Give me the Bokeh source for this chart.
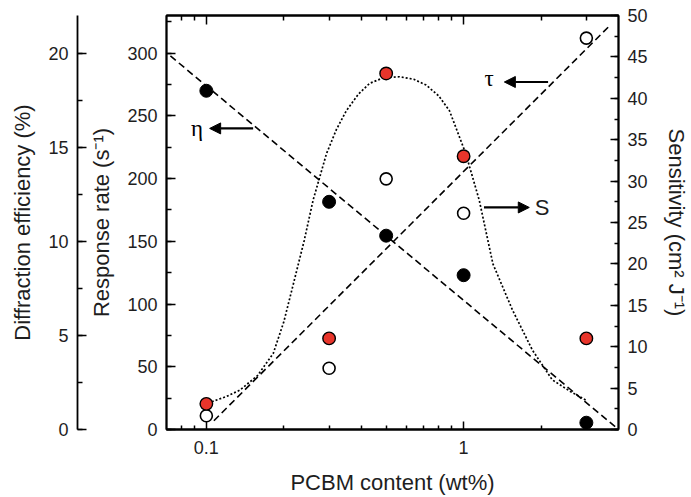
from bokeh.plotting import figure
from bokeh.models import (Range1d, LinearAxis, LogAxis, FixedTicker, SingleIntervalTicker,
                          BasicTickFormatter, Arrow, NormalHead, Label)
from bokeh.embed import file_html
from bokeh.resources import INLINE

# ---------------- data ----------------
pcbm = [0.1, 0.3, 0.5, 1.0, 3.0]
eta = [18.0, 12.1, 10.3, 8.2, 0.36]          # diffraction efficiency (%)
tau = [11.0, 48.8, 199.8, 172.4, 312.0]      # response rate (s^-1)
sens = [3.1, 11.0, 43.0, 33.0, 11.0]         # sensitivity (cm2 J-1)

eta_fit_x = [0.0725, 4.0]
eta_fit_y = [19.85, 0.0]
tau_fit_x = [0.107, 3.66]
tau_fit_y = [7.0, 321.0]
s_fit_x = [0.105, 0.120, 0.135, 0.158, 0.182, 0.200, 0.218, 0.240, 0.260, 0.293, 0.320, 0.350,
           0.390, 0.431, 0.490, 0.564, 0.640, 0.715, 0.800, 0.881, 1.02, 1.15, 1.30, 1.55, 1.85, 2.21, 2.60, 2.98]
s_fit_y = [3.35, 4.0, 4.76, 6.5, 9.19, 13.0, 17.6, 22.8, 27.7, 33.3, 36.2, 38.5,
           40.5, 41.8, 42.5, 42.6, 42.3, 41.6, 40.3, 38.5, 33.3, 27.7, 20.0, 14.4, 9.6, 6.0, 4.6, 3.56]

x_major = [0.1, 1.0]
x_minor = [0.08, 0.09, 0.2, 0.3, 0.4, 0.5, 0.6, 0.7, 0.8, 0.9, 2.0, 3.0]

FONT = "Liberation Sans"
TICK_FS = "18px"
LAB_FS = "22px"
TXT = "#1e1e1e"
RED = "#e8352b"

p = figure(width=691, height=497, x_axis_type="log",
           x_range=Range1d(0.07, 4.0), y_range=Range1d(0, 330),
           output_backend="svg", toolbar_location=None,
           min_border_left=166, min_border_right=71,
           min_border_top=15, min_border_bottom=68)
p.extra_y_ranges = {"eta": Range1d(0, 22.0), "sens": Range1d(0, 50)}
p.xgrid.visible = False
p.ygrid.visible = False
p.outline_line_color = "black"
p.outline_line_width = 1.8
p.background_fill_color = "white"
p.border_fill_color = "white"


def style_axis(ax, tin, minin):
    ax.major_tick_in = tin
    ax.major_tick_out = 0
    ax.minor_tick_in = minin
    ax.minor_tick_out = 0
    ax.axis_line_color = "black"
    ax.axis_line_width = 1.8
    ax.major_tick_line_color = "black"
    ax.major_tick_line_width = 1.5
    ax.minor_tick_line_color = "black"
    ax.minor_tick_line_width = 1.5
    ax.major_label_text_font = FONT
    ax.major_label_text_font_size = TICK_FS
    ax.major_label_text_color = TXT
    ax.axis_label_text_font = FONT
    ax.axis_label_text_font_size = LAB_FS
    ax.axis_label_text_font_style = "normal"
    ax.axis_label_text_color = TXT


# bottom (log) axis
xa = p.xaxis[0]
xa.ticker = FixedTicker(ticks=x_major, minor_ticks=x_minor)
xa.formatter = BasicTickFormatter()
style_axis(xa, 8, 4)
xa.major_label_standoff = 11
xa.axis_label = "PCBM content (wt%)"
xa.axis_label_standoff = 13

# top mirror axis
ta = LogAxis(ticker=FixedTicker(ticks=x_major, minor_ticks=x_minor))
style_axis(ta, 9, 5)
ta.major_label_text_font_size = "1px"
ta.major_label_text_alpha = 0
ta.major_label_standoff = 0
p.add_layout(ta, "above")

# inner left: response rate
ya = p.yaxis[0]
ya.ticker = SingleIntervalTicker(interval=50, num_minor_ticks=2)
style_axis(ya, 9, 5)
ya.major_label_standoff = 9
ya.axis_label = "Response rate (s⁻¹)"
ya.axis_label_standoff = 10

# spacer between the two left axes
sp = LinearAxis(y_range_name="eta", ticker=FixedTicker(ticks=[]))
style_axis(sp, 0, 0)
sp.axis_line_alpha = 0
sp.major_label_standoff = 0
sp.axis_label = "x"
sp.axis_label_text_alpha = 0
sp.axis_label_text_font_size = "5px"
sp.axis_label_standoff = 0
p.add_layout(sp, "left")

# outer left: diffraction efficiency
da = LinearAxis(y_range_name="eta", ticker=SingleIntervalTicker(interval=5, num_minor_ticks=2))
style_axis(da, 9, 5)
da.major_label_standoff = 9
da.axis_label = "Diffraction efficiency (%)"
da.axis_label_standoff = 10
p.add_layout(da, "left")

# right: sensitivity
ra = LinearAxis(y_range_name="sens", ticker=SingleIntervalTicker(interval=5, num_minor_ticks=2))
style_axis(ra, 8, 4)
ra.major_label_standoff = 9
ra.axis_label = "Sensitivity (cm² J⁻¹)"
ra.axis_label_standoff = 13
p.add_layout(ra, "right")

# fitted / guide lines
p.line(eta_fit_x, eta_fit_y, y_range_name="eta", line_color="black", line_width=1.6, line_dash="7 4")
p.line(tau_fit_x, tau_fit_y, line_color="black", line_width=1.6, line_dash="7 4")
p.line(s_fit_x, s_fit_y, y_range_name="sens", line_color="black", line_width=1.7, line_dash="2 2")

# data points
p.scatter(pcbm, eta, y_range_name="eta", size=13, fill_color="black", line_color="black", line_width=1)
p.scatter(pcbm, tau, size=12, fill_color="white", line_color="black", line_width=1.6)
p.scatter(pcbm, sens, y_range_name="sens", size=12.5, fill_color=RED, line_color="black", line_width=1.4)

# annotations
def arrow(x0, y0, x1, y1, rng="default"):
    p.add_layout(Arrow(end=NormalHead(size=11, fill_color="black", line_color="black"),
                       x_start=x0, y_start=y0, x_end=x1, y_end=y1, y_range_name=rng,
                       line_color="black", line_width=2.2))

arrow(0.152, 240, 0.103, 240)
arrow(2.13, 277, 1.44, 277)
arrow(1.20, 177, 1.80, 177)

p.add_layout(Label(x=0.092, y=240, text="η", text_font="Liberation Serif", text_font_size="23px",
                   text_align="center", text_baseline="middle", text_color="black"))
p.add_layout(Label(x=1.257, y=280, text="τ", text_font="Liberation Serif", text_font_size="23px",
                   text_align="center", text_baseline="middle", text_color="black"))
p.add_layout(Label(x=2.02, y=177, text="S", text_font=FONT, text_font_size="22px",
                   text_align="center", text_baseline="middle", text_color=TXT))

open("out.html", "w").write(file_html(p, INLINE))
